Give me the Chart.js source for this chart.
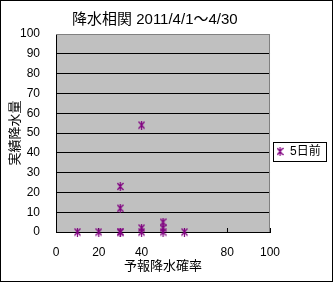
<!DOCTYPE html>
<html>
<head>
<meta charset="utf-8">
<script src="https://cdn.jsdelivr.net/npm/chart.js@4/dist/chart.umd.min.js"></script>
<style>
  body { margin: 0; background: #fff; }
</style>
</head>
<body>
<canvas id="rainChart" width="333" height="282"></canvas>
<script>
// --- DATA ---
const seriesName = '5日前';
const forecastProb = [10, 20, 30, 30, 30, 30, 40, 40, 40, 50, 50, 50, 60];
const actualRain   = [0,  0,  0,  0,  12, 23, 0,  2,  54, 0,  2,  5,  0];
const xTicks = [0, 20, 40, 60, 80, 100];
const xTickLabels = ['0', '20', '40', '', '80', '100'];

const FONT = "'Liberation Sans', 'Noto Sans CJK JP', sans-serif";
const PURPLE = '#800080';

// star marker (x + vertical bar), like the spreadsheet one
function makeStar(w, h) {
    const c = document.createElement('canvas');
    c.width = w; c.height = h;
    const g = c.getContext('2d');
    g.strokeStyle = PURPLE;
    g.lineWidth = 1.2;
    const m = w / 2;
    g.beginPath();
    g.moveTo(0.5, 1); g.lineTo(w - 0.5, h - 1);
    g.moveTo(w - 0.5, 1); g.lineTo(0.5, h - 1);
    g.moveTo(m, 0); g.lineTo(m, h);
    g.stroke();
    return c;
}
const star = makeStar(7, 9);

// background, plot area fill, frame, legend box
const framePlugin = {
    id: 'frame',
    beforeDraw(chart) {
        const { ctx, chartArea: a, width, height } = chart;
        ctx.save();
        ctx.fillStyle = '#fff';
        ctx.fillRect(0, 0, width, height);
        ctx.fillStyle = '#c0c0c0';
        ctx.fillRect(a.left, a.top, a.right - a.left, a.bottom - a.top);
        ctx.restore();
    },
    afterDraw(chart) {
        const { ctx, chartArea: a, width, height } = chart;
        ctx.save();
        ctx.lineWidth = 1;
        ctx.strokeStyle = '#808080';
        ctx.beginPath();
        ctx.moveTo(a.left, Math.round(a.top) + 0.5);
        ctx.lineTo(Math.round(a.right) - 0.5, Math.round(a.top) + 0.5);
        ctx.lineTo(Math.round(a.right) - 0.5, a.bottom);
        ctx.stroke();
        ctx.strokeStyle = '#000';
        ctx.strokeRect(0.5, 0.5, width - 1, height - 1);
        const hb = chart.legend.legendHitBoxes[0];
        if (hb) {
            ctx.strokeRect(Math.round(hb.left - 3) + 0.5, Math.round(hb.top - 4) + 0.5,
                Math.round(hb.width + 8), Math.round(hb.height + 7));
        }
        ctx.restore();
    }
};

const ctx = document.getElementById('rainChart').getContext('2d');
const rainChart = new Chart(ctx, {
    type: 'scatter',
    data: {
        datasets: [{
            label: seriesName,
            data: forecastProb.map((x, i) => ({ x: x, y: actualRain[i] })),
            pointStyle: star,
            borderColor: PURPLE,
            backgroundColor: PURPLE,
            clip: false
        }]
    },
    options: {
        responsive: false,
        animation: false,
        // negative left padding moves the centred title left, like the original
        layout: { padding: { left: -21, right: 2.3, top: 0, bottom: 0 } },
        plugins: {
            title: {
                display: true,
                text: '降水相関 2011/4/1～4/30',
                color: '#000',
                font: { family: FONT, size: 15, weight: 'normal', lineHeight: 1.2 },
                padding: { top: 11, bottom: 5 }
            },
            legend: {
                position: 'right',
                maxWidth: 63,
                title: { display: true, text: '', font: { size: 1, lineHeight: 1 }, padding: { top: 20, bottom: 0 } },
                labels: {
                    usePointStyle: true,
                    pointStyleWidth: 8,
                    padding: 6,
                    color: '#000',
                    font: { family: FONT, size: 12 }
                }
            },
            tooltip: { enabled: false }
        },
        scales: {
            x: {
                type: 'linear',
                min: 0, max: 100,
                afterBuildTicks: s => { s.ticks = xTicks.map(v => ({ value: v })); },
                afterFit: s => { s.height = 50; },
                ticks: {
                    color: '#000',
                    font: { family: FONT, size: 12 },
                    padding: 17,
                    maxRotation: 0,
                    callback: v => xTickLabels[xTicks.indexOf(v)]
                },
                grid: { display: true, drawOnChartArea: false, drawTicks: true, tickLength: -4, color: '#000' },
                border: { display: true, color: '#000' },
                title: {
                    display: true,
                    text: '予報降水確率',
                    color: '#000',
                    font: { family: FONT, size: 13, lineHeight: 1.2 },
                    padding: { top: 0, bottom: 8 }
                }
            },
            y: {
                min: 0, max: 100,
                afterFit: s => { s.width = 77; },
                ticks: {
                    stepSize: 10,
                    color: '#000',
                    font: { family: FONT, size: 12 },
                    padding: 16
                },
                grid: {
                    drawTicks: false,
                    color: c => c.tick && c.tick.value === 100 ? '#808080' : '#000'
                },
                border: { display: true, color: '#000' },
                title: {
                    display: true,
                    text: '実績降水量',
                    color: '#000',
                    font: { family: FONT, size: 13, lineHeight: 1.2 },
                    padding: { top: 29, bottom: 0 }
                }
            }
        }
    },
    plugins: [framePlugin]
});
</script>
</body>
</html>
